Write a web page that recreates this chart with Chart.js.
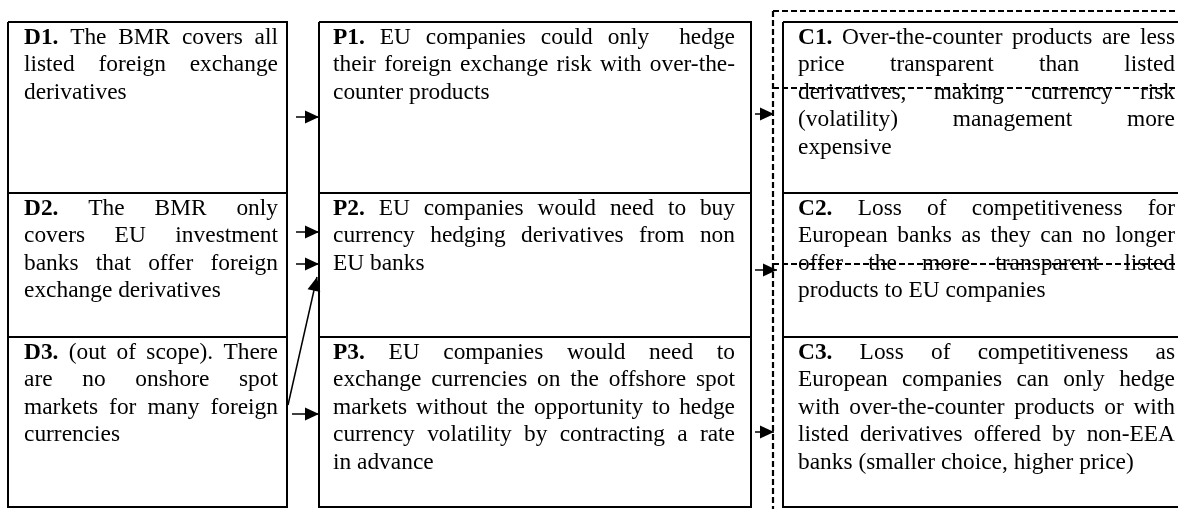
<!DOCTYPE html>
<html>
<head>
<meta charset="utf-8">
<script src="https://cdn.jsdelivr.net/npm/chart.js@4/dist/chart.umd.min.js"></script>
<style>
  html, body { margin: 0; padding: 0; background: #fff; }
  #wrap { width: 1178px; height: 509px; }
</style>
</head>
<body>
<div id="wrap"><canvas id="driverChart" width="1178" height="509"></canvas></div>
<script>
// row edges shared by the three columns
const rows = [22, 193, 337, 507];

// columns: box edges, text edges and the text of each cell (line by line, as in the source)
const columns = [
  { x0: 8, x1: 287, textL: 24, textR: 278, cells: [
    { label: 'D1.', lines: ['The BMR covers all', 'listed foreign exchange', 'derivatives'] },
    { label: 'D2.', lines: ['The BMR only', 'covers EU investment', 'banks that offer foreign', 'exchange derivatives'] },
    { label: 'D3.', lines: ['(out of scope). There', 'are no onshore spot', 'markets for many foreign', 'currencies'] }
  ]},
  { x0: 319, x1: 751, textL: 333, textR: 735, cells: [
    { label: 'P1.', lines: ['EU companies could only  hedge', 'their foreign exchange risk with over-the-', 'counter products'] },
    { label: 'P2.', lines: ['EU companies would need to buy', 'currency hedging derivatives from non', 'EU banks'] },
    { label: 'P3.', lines: ['EU companies would need to', 'exchange currencies on the offshore spot', 'markets without the opportunity to hedge', 'currency volatility by contracting a rate', 'in advance'] }
  ]},
  { x0: 783, x1: 1190, textL: 798, textR: 1175, cells: [
    { label: 'C1.', lines: ['Over-the-counter products are less', 'price transparent than listed', 'derivatives, making currency risk', '(volatility) management more', 'expensive'] },
    { label: 'C2.', lines: ['Loss of competitiveness for', 'European banks as they can no longer', 'offer the more transparent listed', 'products to EU companies'] },
    { label: 'C3.', lines: ['Loss of competitiveness as', 'European companies can only hedge', 'with over-the-counter products or with', 'listed derivatives offered by non-EEA', 'banks (smaller choice, higher price)'] }
  ]}
];

// arrows [from, to]
const arrows = [
  [[296, 117], [319, 117]],
  [[296, 232], [319, 232]],
  [[296, 264], [319, 264]],
  [[288, 405], [317, 277]],
  [[292, 414], [319, 414]],
  [[755, 114], [774, 114]],
  [[755, 270], [777, 270]],
  [[755, 432], [774, 432]]
];

// dashed frame round the consequences column
const dashed = [
  [[773, 11], [773, 509]],
  [[773, 11], [1178, 11]],
  [[773, 88], [1178, 88]],
  [[773, 264], [1178, 264]]
];

const FONT = '23.4px "Liberation Serif", "Times New Roman", serif';
const BOLD = 'bold ' + FONT;
const LINE_H = 27.4;

const datasets = [];
const seg = (pts, width, dash) => datasets.push({
  data: pts.map(p => ({ x: p[0], y: p[1] })),
  showLine: true, pointRadius: 0, borderColor: '#000', borderWidth: width,
  borderDash: dash || [], fill: false, tension: 0, clip: false
});

columns.forEach(col => {
  seg([[col.x0, rows[0]], [col.x1, rows[0]], [col.x1, rows[3]], [col.x0, rows[3]], [col.x0, rows[0]]], 2);
  seg([[col.x0, rows[1]], [col.x1, rows[1]]], 2);
  seg([[col.x0, rows[2]], [col.x1, rows[2]]], 2);
});
dashed.forEach(d => seg(d, 2.2, [6, 3]));
arrows.forEach(a => seg(a, 1.5));

const textPlugin = {
  id: 'cellText',
  beforeDatasetsDraw(chart) {
    const { ctx, scales: { x, y } } = chart;
    ctx.save();
    ctx.fillStyle = '#000';
    ctx.textBaseline = 'alphabetic';
    columns.forEach(col => {
      const left = x.getPixelForValue(col.textL);
      const right = x.getPixelForValue(col.textR);
      col.cells.forEach((cell, r) => {
        const top = y.getPixelForValue(rows[r]);
        cell.lines.forEach((line, i) => {
          const words = line.split(' ').map(w => ({ t: w, f: FONT }));
          if (i === 0) words.unshift({ t: cell.label, f: BOLD });
          words.forEach(w => { ctx.font = w.f; w.w = ctx.measureText(w.t).width; });
          ctx.font = FONT;
          const space = ctx.measureText(' ').width;
          const last = i === cell.lines.length - 1;
          let gap = space;
          if (!last && words.length > 1) {
            const used = words.reduce((s, w) => s + w.w, 0);
            gap = (right - left - used) / (words.length - 1);
          }
          let px = left;
          const base = top + 22 + i * LINE_H;
          words.forEach(w => {
            ctx.font = w.f;
            ctx.fillText(w.t, px, base);
            px += w.w + gap;
          });
        });
      });
    });
    ctx.restore();
  },
  afterDatasetsDraw(chart) {
    const { ctx, scales: { x, y } } = chart;
    ctx.save();
    ctx.fillStyle = '#000';
    arrows.forEach(([from, to]) => {
      const x1 = x.getPixelForValue(from[0]), y1 = y.getPixelForValue(from[1]);
      const x2 = x.getPixelForValue(to[0]), y2 = y.getPixelForValue(to[1]);
      const ang = Math.atan2(y2 - y1, x2 - x1);
      const len = 14, half = 6.5;
      ctx.beginPath();
      ctx.moveTo(x2, y2);
      ctx.lineTo(x2 - len * Math.cos(ang) + half * Math.sin(ang), y2 - len * Math.sin(ang) - half * Math.cos(ang));
      ctx.lineTo(x2 - len * Math.cos(ang) - half * Math.sin(ang), y2 - len * Math.sin(ang) + half * Math.cos(ang));
      ctx.closePath();
      ctx.fill();
    });
    ctx.restore();
  }
};

new Chart(document.getElementById('driverChart'), {
  type: 'scatter',
  data: { datasets },
  options: {
    responsive: false,
    animation: false,
    layout: { padding: 0 },
    scales: {
      x: { type: 'linear', min: 0, max: 1178, display: false },
      y: { type: 'linear', min: 0, max: 509, reverse: true, display: false }
    },
    plugins: { legend: { display: false }, tooltip: { enabled: false } }
  },
  plugins: [textPlugin]
});
</script>
</body>
</html>
